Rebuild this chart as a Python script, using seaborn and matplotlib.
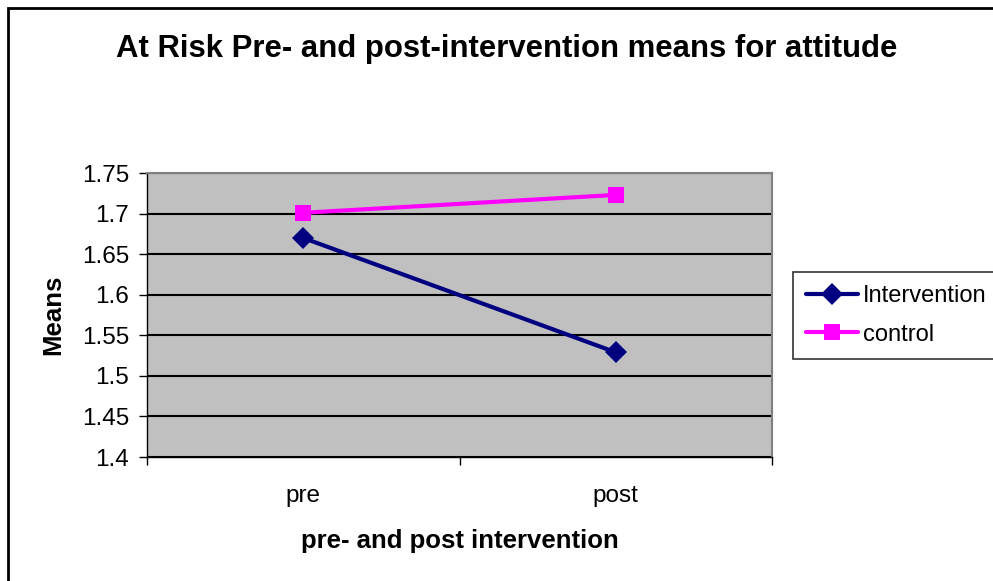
import matplotlib
matplotlib.use("Agg")
import matplotlib.pyplot as plt
from matplotlib.patches import Rectangle
import seaborn as sns
import pandas as pd

phases = ["pre", "post"]
intervention = [1.670, 1.529]
control = [1.701, 1.723]
series_names = ["Intervention", "control"]
y_ticks = [1.4, 1.45, 1.5, 1.55, 1.6, 1.65, 1.7, 1.75]
y_tick_labels = ["1.4", "1.45", "1.5", "1.55", "1.6", "1.65", "1.7", "1.75"]

df = pd.DataFrame({
    "phase": phases * 2,
    "pos": [0, 1, 0, 1],
    "mean": intervention + control,
    "group": [series_names[0]] * 2 + [series_names[1]] * 2,
})

sns.set_theme(style="white")
plt.rcParams["font.family"] = ["Liberation Sans", "DejaVu Sans"]
plt.rcParams.update({"text.color": "black", "axes.labelcolor": "black",
                     "xtick.color": "black", "ytick.color": "black"})

fig = plt.figure(figsize=(9.93, 5.81), dpi=100)
ax = fig.add_axes([0.148, 0.2134, 0.6295, 0.4888])
ax.set_facecolor("#c0c0c0")

palette = {"Intervention": "#000080", "control": "#ff00ff"}
sns.lineplot(data=df, x="pos", y="mean", hue="group", style="group",
             markers={"Intervention": "D", "control": "s"}, dashes=False,
             palette=palette, linewidth=3, markersize=11,
             markeredgewidth=0, ax=ax, legend=False)

ax.set_xlim(-0.5, 1.5)
ax.set_ylim(1.4, 1.75)
ax.set_yticks(y_ticks)
ax.set_yticklabels(y_tick_labels, fontsize=17.5)
ax.yaxis.grid(True, color="black", linewidth=1.5)
ax.set_axisbelow(True)

# category ticks sit between categories; labels centred on categories
ax.set_xticks([-0.5, 0.5, 1.5])
ax.set_xticklabels([])
ax.set_xticks([0, 1], minor=True)
ax.set_xticklabels(phases, minor=True, fontsize=17.5)
ax.tick_params(axis="x", which="major", direction="out", length=6, width=1, color="black", bottom=True)
ax.tick_params(axis="x", which="minor", length=0, pad=20)
ax.tick_params(axis="y", direction="out", length=6, width=1, color="black", left=True, pad=7)

for side in ["left", "bottom"]:
    ax.spines[side].set_color("black")
    ax.spines[side].set_linewidth(1)
for side in ["top", "right"]:
    ax.spines[side].set_color("#808080")
    ax.spines[side].set_linewidth(1.5)

ax.set_xlabel("pre- and post intervention", fontsize=18.5, fontweight="bold", labelpad=16)
ax.set_ylabel("Means", fontsize=18.5, fontweight="bold", labelpad=12)

fig.text(0.51, 0.916, "At Risk Pre- and post-intervention means for attitude",
         ha="center", va="center", fontsize=22.4, fontweight="bold")

# legend drawn from the plotted lines
handles = ax.get_lines()[:2]
leg = fig.legend(handles, series_names, loc="upper left",
                 bbox_to_anchor=(793 / 993, 1 - 272 / 581),
                 fontsize=17, frameon=True, fancybox=False, edgecolor="black",
                 borderpad=0.55, handlelength=2.2, handletextpad=0.2,
                 labelspacing=0.7, borderaxespad=0)
leg.get_frame().set_linewidth(1.2)

# chart border
fig.patches.append(Rectangle((8 / 993, -0.1), 1.2, 1 - 8 / 581 + 0.1,
                             transform=fig.transFigure, fill=False,
                             edgecolor="black", linewidth=2, clip_on=False))

fig.savefig("out.png", dpi=100)
